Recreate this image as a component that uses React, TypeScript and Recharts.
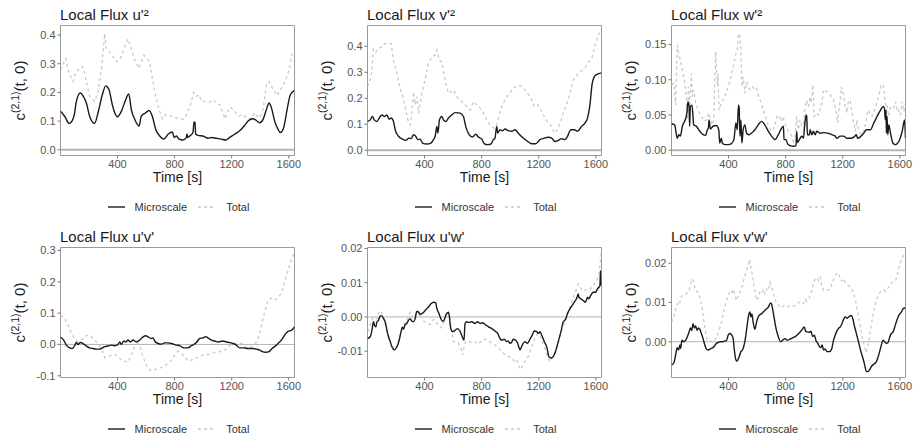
import React from 'react';
import { LineChart, Line, XAxis, YAxis, ReferenceLine, ReferenceArea, Label } from 'recharts';

type Pt = [number, number];

const TIME_DOMAIN: [number, number] = [1, 1640];
const TIME_TICKS = [400, 800, 1200, 1600];
const SERIES_NAMES = ['Microscale', 'Total'];
const X_TITLE = 'Time [s]';

// ---------- Local Flux u'^2 ----------
const uuMicro: Pt[] = [[1,0.134],[30,0.117],[61,0.092],[77,0.097],[100,0.129],[112,0.169],[140,0.198],[159,0.188],[182,0.163],[205,0.117],[240,0.092],[264,0.129],[294,0.192],[318,0.223],[341,0.209],[364,0.157],[381,0.129],[399,0.115],[427,0.134],[458,0.175],[479,0.195],[497,0.14],[521,0.106],[551,0.083],[567,0.117],[598,0.129],[621,0.137],[644,0.117],[668,0.071],[696,0.048],[724,0.037],[754,0.054],[785,0.062],[796,0.043],[813,0.048],[831,0.037],[859,0.034],[883,0.043],[887,0.055],[892,0.043],[906,0.048],[929,0.06],[936,0.097],[943,0.095],[948,0.054],[964,0.05],[999,0.048],[1034,0.04],[1058,0.043],[1093,0.04],[1128,0.037],[1158,0.034],[1186,0.043],[1221,0.054],[1256,0.066],[1291,0.085],[1315,0.1],[1350,0.108],[1373,0.102],[1396,0.094],[1420,0.106],[1443,0.14],[1462,0.163],[1478,0.147],[1501,0.1],[1525,0.071],[1541,0.06],[1564,0.077],[1588,0.14],[1611,0.192],[1640,0.207]];
const uuTotal: Pt[] = [[1,0.278],[37,0.318],[54,0.278],[77,0.25],[89,0.238],[107,0.267],[131,0.284],[154,0.29],[166,0.278],[182,0.238],[205,0.186],[240,0.169],[264,0.203],[287,0.278],[311,0.405],[322,0.353],[346,0.341],[369,0.324],[397,0.307],[427,0.324],[458,0.37],[474,0.387],[497,0.353],[521,0.313],[551,0.284],[567,0.307],[586,0.33],[607,0.318],[626,0.307],[644,0.25],[668,0.186],[691,0.14],[715,0.108],[738,0.123],[761,0.117],[789,0.117],[813,0.111],[841,0.108],[864,0.106],[883,0.123],[911,0.157],[934,0.2],[953,0.186],[971,0.192],[988,0.169],[1011,0.169],[1046,0.166],[1069,0.175],[1093,0.163],[1116,0.157],[1135,0.134],[1153,0.108],[1168,0.129],[1191,0.149],[1210,0.14],[1233,0.126],[1252,0.117],[1270,0.123],[1291,0.117],[1315,0.106],[1338,0.111],[1361,0.129],[1378,0.117],[1396,0.111],[1420,0.14],[1443,0.226],[1462,0.238],[1478,0.221],[1501,0.203],[1518,0.189],[1536,0.209],[1560,0.221],[1578,0.244],[1602,0.278],[1623,0.336],[1640,0.347]];

// ---------- Local Flux v'^2 ----------
const vvMicro: Pt[] = [[1,0.111],[20,0.117],[36,0.13],[48,0.117],[67,0.111],[83,0.124],[102,0.136],[120,0.13],[137,0.136],[153,0.12],[167,0.124],[183,0.111],[195,0.079],[218,0.054],[246,0.043],[269,0.038],[292,0.047],[307,0.045],[323,0.06],[339,0.054],[353,0.041],[370,0.043],[386,0.028],[416,0.024],[446,0.028],[463,0.041],[475,0.054],[487,0.092],[494,0.066],[505,0.117],[521,0.13],[533,0.117],[549,0.111],[568,0.124],[591,0.136],[615,0.145],[650,0.143],[673,0.13],[689,0.092],[713,0.06],[736,0.051],[759,0.062],[778,0.051],[801,0.043],[820,0.025],[843,0.022],[867,0.025],[883,0.041],[894,0.047],[906,0.092],[913,0.066],[929,0.079],[945,0.075],[964,0.082],[987,0.076],[1011,0.073],[1034,0.079],[1057,0.066],[1092,0.047],[1123,0.034],[1151,0.025],[1179,0.025],[1209,0.041],[1240,0.047],[1268,0.05],[1291,0.047],[1314,0.034],[1337,0.038],[1360,0.045],[1384,0.041],[1402,0.054],[1426,0.079],[1449,0.079],[1472,0.073],[1500,0.092],[1523,0.104],[1542,0.124],[1559,0.175],[1575,0.257],[1598,0.289],[1640,0.298]];
const vvTotal: Pt[] = [[1,0.245],[27,0.283],[43,0.391],[60,0.378],[78,0.391],[97,0.397],[120,0.41],[148,0.41],[167,0.41],[183,0.347],[207,0.296],[230,0.238],[260,0.181],[283,0.117],[300,0.098],[311,0.136],[323,0.225],[335,0.175],[346,0.206],[358,0.143],[381,0.219],[404,0.27],[426,0.334],[451,0.359],[475,0.366],[487,0.385],[503,0.347],[521,0.34],[545,0.27],[568,0.219],[587,0.225],[603,0.232],[626,0.206],[650,0.194],[673,0.181],[696,0.168],[720,0.155],[743,0.187],[766,0.175],[790,0.162],[813,0.143],[836,0.117],[867,0.092],[890,0.085],[906,0.098],[918,0.124],[941,0.168],[964,0.194],[987,0.213],[1022,0.238],[1057,0.251],[1081,0.245],[1116,0.225],[1151,0.194],[1169,0.168],[1193,0.175],[1216,0.155],[1239,0.13],[1267,0.104],[1291,0.092],[1309,0.066],[1333,0.079],[1349,0.104],[1372,0.143],[1395,0.175],[1419,0.219],[1442,0.27],[1477,0.296],[1505,0.308],[1528,0.321],[1551,0.34],[1575,0.359],[1598,0.41],[1621,0.448],[1640,0.455]];

// ---------- Local Flux w'^2 ----------
const wwMicro: Pt[] = [[1,0.0376],[23,0.036],[34,0.024],[41,0.017],[53,0.022],[63,0.02],[77,0.034],[93,0.041],[109,0.053],[116,0.069],[124,0.062],[128,0.034],[133,0.062],[145,0.064],[152,0.046],[156,0.036],[175,0.034],[199,0.027],[222,0.022],[241,0.021],[252,0.029],[259,0.0315],[264,0.043],[273,0.03],[292,0.034],[315,0.035],[332,0.029],[339,0.01],[350,0.017],[358,0.0094],[374,0.008],[398,0.008],[421,0.0094],[438,0.015],[452,0.0386],[461,0.029],[470,0.064],[475,0.06],[480,0.02],[487,0.043],[494,0.01],[503,0.029],[515,0.036],[527,0.024],[543,0.022],[560,0.024],[585,0.029],[608,0.036],[632,0.041],[655,0.036],[679,0.027],[702,0.02],[726,0.015],[749,0.022],[773,0.0315],[785,0.034],[789,0.015],[803,0.015],[813,0.0094],[831,0.0066],[855,0.0056],[873,0.0066],[878,0.027],[883,0.011],[897,0.015],[913,0.02],[925,0.017],[934,0.036],[944,0.05],[948,0.048],[953,0.022],[967,0.022],[972,0.029],[984,0.022],[995,0.027],[1007,0.022],[1019,0.027],[1042,0.024],[1066,0.025],[1101,0.024],[1124,0.022],[1148,0.02],[1159,0.017],[1183,0.02],[1206,0.02],[1230,0.017],[1253,0.017],[1281,0.019],[1295,0.022],[1305,0.017],[1323,0.019],[1347,0.024],[1366,0.029],[1394,0.029],[1418,0.0386],[1441,0.048],[1465,0.057],[1483,0.062],[1492,0.06],[1499,0.043],[1504,0.057],[1506,0.024],[1511,0.048],[1516,0.022],[1523,0.036],[1535,0.024],[1553,0.01],[1570,0.008],[1594,0.0127],[1617,0.027],[1633,0.043],[1640,0.017]];
const wwTotal: Pt[] = [[1,0.093],[18,0.095],[30,0.064],[41,0.149],[53,0.137],[65,0.126],[81,0.109],[93,0.097],[105,0.071],[112,0.043],[119,0.09],[128,0.057],[140,0.109],[147,0.076],[156,0.086],[170,0.067],[187,0.057],[210,0.048],[227,0.041],[245,0.043],[264,0.053],[273,0.043],[287,0.036],[296,0.043],[304,0.097],[311,0.14],[316,0.114],[323,0.093],[327,0.109],[334,0.057],[351,0.067],[374,0.076],[398,0.09],[421,0.107],[438,0.123],[452,0.137],[461,0.14],[470,0.165],[480,0.165],[487,0.142],[494,0.09],[503,0.104],[515,0.081],[527,0.097],[538,0.09],[550,0.086],[569,0.09],[585,0.086],[597,0.088],[608,0.079],[625,0.069],[644,0.057],[663,0.046],[679,0.034],[695,0.029],[709,0.027],[733,0.041],[742,0.05],[756,0.048],[768,0.041],[780,0.048],[789,0.043],[803,0.034],[813,0.029],[827,0.024],[843,0.02],[855,0.0127],[866,0.02],[878,0.048],[890,0.029],[901,0.043],[913,0.034],[925,0.0386],[937,0.06],[948,0.071],[960,0.062],[972,0.076],[979,0.067],[991,0.093],[1000,0.048],[1014,0.053],[1030,0.05],[1042,0.057],[1054,0.067],[1066,0.086],[1089,0.083],[1113,0.079],[1136,0.071],[1152,0.057],[1164,0.0386],[1173,0.057],[1183,0.071],[1190,0.09],[1202,0.083],[1218,0.062],[1230,0.053],[1241,0.071],[1253,0.069],[1265,0.053],[1277,0.0386],[1288,0.027],[1300,0.043],[1312,0.029],[1329,0.022],[1347,0.027],[1366,0.043],[1375,0.057],[1389,0.053],[1405,0.048],[1429,0.06],[1452,0.076],[1469,0.093],[1483,0.093],[1492,0.081],[1501,0.062],[1511,0.064],[1523,0.048],[1534,0.06],[1546,0.062],[1558,0.06],[1570,0.069],[1581,0.055],[1593,0.057],[1605,0.05],[1616,0.069],[1628,0.055],[1640,0.064]];

// ---------- Local Flux u'v' ----------
const uvMicro: Pt[] = [[1,0.024],[23,0.014],[42,-0.002],[65,-0.011],[84,-0.013],[100,-0.004],[112,0.006],[124,0.0],[140,0.006],[159,0.003],[182,-0.005],[205,-0.011],[229,-0.013],[252,-0.015],[271,-0.015],[287,-0.013],[311,-0.007],[334,-0.005],[357,-0.002],[381,-0.004],[404,0.0],[416,0.008],[427,0.0],[444,0.011],[458,0.008],[474,0.014],[490,0.008],[509,0.014],[532,0.008],[556,0.014],[579,0.024],[598,0.028],[614,0.024],[637,0.019],[649,0.021],[661,0.011],[684,0.003],[708,0.001],[731,0.005],[754,0.005],[778,0.003],[813,-0.002],[836,-0.004],[864,-0.011],[894,-0.011],[918,-0.004],[953,0.006],[976,0.019],[999,0.021],[1018,0.025],[1034,0.021],[1058,0.014],[1081,0.011],[1104,0.008],[1139,0.011],[1163,0.008],[1186,0.006],[1210,0.003],[1233,-0.002],[1256,-0.011],[1284,-0.011],[1315,-0.013],[1350,-0.013],[1373,-0.015],[1396,-0.018],[1415,-0.023],[1438,-0.025],[1462,-0.023],[1478,-0.015],[1501,-0.007],[1525,0.003],[1548,0.014],[1571,0.03],[1595,0.042],[1618,0.045],[1640,0.056]];
const uvTotal: Pt[] = [[1,0.093],[30,0.083],[54,0.061],[77,0.035],[100,0.019],[124,0.008],[147,0.014],[170,0.024],[194,0.03],[210,0.028],[229,0.019],[252,0.008],[276,-0.007],[294,-0.018],[311,-0.042],[334,-0.039],[357,-0.034],[381,-0.032],[404,-0.039],[427,-0.05],[451,-0.053],[474,-0.057],[486,-0.044],[497,-0.034],[521,-0.007],[544,0.003],[556,-0.002],[567,-0.023],[591,-0.055],[614,-0.076],[637,-0.085],[661,-0.081],[684,-0.076],[708,-0.074],[731,-0.068],[754,-0.06],[778,-0.05],[801,-0.034],[824,-0.021],[848,-0.029],[871,-0.039],[894,-0.053],[918,-0.05],[941,-0.044],[964,-0.042],[988,-0.036],[1011,-0.032],[1034,-0.032],[1058,-0.029],[1081,-0.025],[1104,-0.025],[1128,-0.021],[1151,-0.018],[1175,-0.007],[1198,0.0],[1221,0.003],[1245,0.005],[1268,0.003],[1291,-0.007],[1315,-0.011],[1338,-0.007],[1361,-0.002],[1385,0.019],[1408,0.061],[1431,0.104],[1455,0.141],[1478,0.148],[1501,0.141],[1525,0.151],[1548,0.162],[1571,0.199],[1595,0.236],[1618,0.273],[1640,0.294]];

// ---------- Local Flux u'w' ----------
const uwMicro: Pt[] = [[1,-0.0063],[20,-0.0058],[32,-0.0039],[43,-0.0014],[50,-0.0024],[60,-0.0029],[67,-0.0014],[78,-0.001],[90,0.0003],[102,0.0003],[113,-0.0005],[125,-0.0014],[137,-0.0039],[148,-0.0058],[160,-0.0072],[172,-0.0087],[188,-0.0096],[207,-0.0087],[223,-0.0068],[236,-0.0043],[246,-0.0029],[253,-0.0036],[265,-0.0022],[276,-0.0019],[288,-0.001],[300,-0.0005],[311,-0.0012],[323,-0.0014],[335,-0.0005],[346,0.0016],[358,0.0014],[370,0.0007],[381,0.001],[393,0.0013],[405,0.0019],[416,0.0024],[428,0.0029],[447,0.0039],[463,0.0043],[479,0.0041],[487,0.0024],[498,0.0014],[510,0.0],[521,-0.001],[533,-0.0013],[545,0.0],[556,0.001],[568,0.0013],[575,0.0],[582,-0.0029],[596,-0.0043],[614,-0.0039],[633,-0.0034],[650,-0.0043],[670,-0.0063],[677,-0.0068],[684,-0.0019],[696,-0.0014],[712,-0.0016],[731,-0.0014],[754,-0.0019],[773,-0.0014],[789,-0.0019],[806,-0.0017],[825,-0.0022],[848,-0.0029],[871,-0.0034],[894,-0.0041],[913,-0.0048],[929,-0.0063],[941,-0.0068],[959,-0.0065],[976,-0.0072],[987,-0.007],[999,-0.0077],[1011,-0.0074],[1022,-0.0065],[1039,-0.0068],[1053,-0.0077],[1069,-0.0096],[1085,-0.0082],[1104,-0.0072],[1122,-0.0077],[1139,-0.0065],[1155,-0.0053],[1169,-0.0041],[1186,-0.0043],[1198,-0.0048],[1209,-0.0043],[1221,-0.0053],[1239,-0.0072],[1256,-0.0087],[1272,-0.0116],[1286,-0.012],[1302,-0.0116],[1318,-0.0101],[1337,-0.0072],[1356,-0.0043],[1372,-0.0014],[1388,-0.0007],[1402,0.001],[1419,0.0024],[1435,0.0034],[1449,0.0043],[1465,0.0053],[1477,0.0067],[1482,0.0058],[1495,0.0053],[1512,0.0048],[1528,0.0043],[1542,0.0058],[1551,0.0053],[1565,0.0063],[1582,0.0072],[1598,0.0072],[1612,0.0082],[1629,0.0092],[1633,0.0135],[1638,0.0092]];
const uwTotal: Pt[] = [[1,-0.0043],[20,-0.0024],[36,-0.0005],[50,0.0],[67,-0.0005],[78,0.001],[90,0.0019],[102,0.001],[113,-0.0003],[137,-0.0039],[160,-0.0072],[188,-0.0094],[207,-0.0087],[223,-0.0063],[246,-0.0029],[265,-0.0019],[288,0.0],[300,0.0014],[311,0.0005],[323,-0.0003],[339,0.001],[353,0.0019],[370,0.001],[386,-0.001],[405,-0.0014],[423,-0.0019],[440,-0.0022],[456,-0.001],[470,-0.0007],[487,-0.0019],[503,-0.0024],[521,-0.0032],[540,-0.001],[556,0.0005],[568,0.0014],[580,-0.0014],[591,-0.0043],[603,-0.0072],[619,-0.0072],[638,-0.0077],[656,-0.0092],[668,-0.0111],[680,-0.0082],[689,-0.0072],[708,-0.0072],[731,-0.0074],[754,-0.0072],[778,-0.008],[801,-0.0068],[825,-0.0065],[848,-0.007],[871,-0.0077],[894,-0.0082],[918,-0.009],[941,-0.0101],[964,-0.0111],[987,-0.0116],[1011,-0.012],[1030,-0.013],[1046,-0.0125],[1062,-0.0145],[1074,-0.0154],[1085,-0.0145],[1104,-0.013],[1122,-0.012],[1139,-0.0101],[1155,-0.0082],[1174,-0.0063],[1193,-0.0048],[1209,-0.0055],[1225,-0.0072],[1244,-0.0092],[1262,-0.0116],[1279,-0.013],[1309,-0.0111],[1325,-0.0092],[1342,-0.0068],[1360,-0.0039],[1379,-0.0019],[1395,0.0],[1412,0.0019],[1431,0.0043],[1449,0.0063],[1465,0.0082],[1477,0.0096],[1489,0.0087],[1505,0.0077],[1524,0.0077],[1547,0.0084],[1565,0.0082],[1582,0.0092],[1598,0.0101],[1612,0.0111],[1624,0.013],[1638,0.0188]];

// ---------- Local Flux v'w' ----------
const vwMicro: Pt[] = [[1,-0.0059],[16,-0.0055],[30,-0.0034],[41,-0.0015],[51,-0.0021],[60,-0.0008],[65,-0.0017],[74,0.0004],[86,0.0],[100,0.0004],[112,0.0013],[124,0.0025],[133,0.0035],[142,0.0029],[152,0.0046],[161,0.0035],[170,0.004],[180,0.0029],[189,0.0035],[199,0.0032],[210,0.0021],[222,0.0008],[234,-0.0008],[245,-0.0018],[257,-0.0021],[269,-0.0019],[280,-0.0017],[292,-0.0015],[304,-0.001],[316,-0.0004],[327,-0.0002],[339,0.0],[358,0.0],[374,0.0002],[386,0.0003],[398,0.0017],[409,0.0021],[421,0.0018],[433,0.0008],[440,-0.0017],[452,-0.0046],[461,-0.0049],[475,-0.0038],[487,-0.0025],[498,-0.0021],[510,-0.0008],[522,0.0017],[531,0.0042],[541,0.0067],[550,0.0076],[557,0.0063],[564,0.0071],[573,0.005],[585,0.0032],[597,0.005],[608,0.0063],[620,0.0069],[632,0.0071],[644,0.0076],[656,0.008],[667,0.0084],[679,0.0088],[691,0.0097],[698,0.0099],[707,0.0088],[719,0.0063],[733,0.0034],[749,0.0013],[766,0.0],[780,0.0004],[796,0.0008],[813,0.0004],[831,0.0007],[850,0.001],[866,0.0013],[883,0.0018],[902,0.0025],[918,0.0032],[930,0.0038],[941,0.0027],[953,0.0025],[967,0.0024],[977,0.0027],[990,0.0013],[1002,0.0017],[1012,0.0004],[1026,-0.0004],[1038,-0.0013],[1047,-0.0015],[1056,-0.0008],[1066,-0.0021],[1077,-0.0018],[1089,-0.0025],[1108,-0.0025],[1124,-0.0017],[1136,0.0004],[1148,0.0017],[1159,0.0027],[1171,0.0034],[1183,0.0038],[1195,0.0046],[1206,0.0057],[1218,0.0063],[1230,0.006],[1241,0.0063],[1253,0.0066],[1262,0.0067],[1272,0.0057],[1281,0.0042],[1293,0.0025],[1305,0.0008],[1316,-0.0008],[1328,-0.0025],[1342,-0.0042],[1354,-0.0059],[1366,-0.0076],[1377,-0.0076],[1389,-0.0071],[1401,-0.0063],[1417,-0.0057],[1434,-0.0052],[1445,-0.0042],[1459,-0.0025],[1471,-0.0008],[1483,0.0004],[1494,0.0],[1506,-0.0004],[1518,-0.0002],[1530,0.0013],[1541,0.0021],[1553,0.0025],[1565,0.0038],[1577,0.0052],[1588,0.0063],[1600,0.0071],[1612,0.0076],[1623,0.0084],[1633,0.0086],[1640,0.0084]];
const vwTotal: Pt[] = [[1,0.005],[16,0.0063],[30,0.0084],[41,0.0097],[51,0.0092],[60,0.0101],[70,0.0116],[86,0.0118],[105,0.0122],[116,0.0126],[128,0.0134],[140,0.0153],[147,0.016],[156,0.0153],[166,0.0134],[180,0.0128],[194,0.0122],[203,0.0109],[217,0.0084],[229,0.005],[241,0.0021],[252,0.0004],[264,0.0],[280,0.0002],[292,0.0],[304,0.0004],[316,0.0013],[327,0.0021],[339,0.0035],[351,0.005],[363,0.0071],[374,0.0088],[386,0.0105],[398,0.0118],[409,0.0126],[421,0.0122],[433,0.0134],[445,0.0118],[456,0.0105],[468,0.0118],[480,0.0126],[491,0.0134],[503,0.0151],[515,0.0168],[527,0.0181],[538,0.0193],[548,0.021],[557,0.0189],[569,0.0168],[578,0.0143],[588,0.0122],[597,0.0105],[609,0.0113],[620,0.0126],[632,0.0122],[644,0.0134],[656,0.0122],[667,0.0134],[679,0.013],[691,0.0151],[702,0.0139],[714,0.0126],[726,0.0109],[738,0.0097],[756,0.0092],[773,0.0086],[789,0.0092],[808,0.0088],[831,0.0092],[855,0.0091],[878,0.0094],[897,0.0101],[913,0.0103],[925,0.0097],[937,0.0108],[948,0.0103],[960,0.0109],[972,0.0116],[984,0.013],[995,0.0147],[1007,0.016],[1019,0.0164],[1030,0.0155],[1042,0.0164],[1054,0.0143],[1066,0.013],[1089,0.013],[1113,0.0134],[1131,0.0155],[1148,0.0168],[1159,0.0176],[1171,0.0172],[1183,0.016],[1195,0.0155],[1206,0.0161],[1218,0.0151],[1230,0.0147],[1241,0.0143],[1253,0.014],[1265,0.0134],[1290,0.0105],[1310,0.0065],[1330,0.0025],[1350,-0.001],[1366,-0.0028],[1380,-0.0005],[1395,0.003],[1415,0.0075],[1440,0.011],[1465,0.0128],[1488,0.0132],[1499,0.0128],[1511,0.0134],[1523,0.0139],[1534,0.0143],[1546,0.0151],[1558,0.0153],[1570,0.0155],[1581,0.0168],[1593,0.0189],[1605,0.0202],[1616,0.0214],[1628,0.022],[1640,0.0223]];

// ---------- panel titles / y ticks ----------
const TITLES = ["Local Flux u'\u00b2", "Local Flux v'\u00b2", "Local Flux w'\u00b2", "Local Flux u'v'", "Local Flux u'w'", "Local Flux v'w'"];
const Y_TICKS_UU = [0, 0.1, 0.2, 0.3, 0.4];
const Y_TICKS_VV = [0, 0.1, 0.2, 0.3, 0.4];
const Y_TICKS_WW = [0, 0.05, 0.1, 0.15];
const Y_TICKS_UV = [-0.1, 0, 0.1, 0.2, 0.3];
const Y_TICKS_UW = [-0.01, 0, 0.01, 0.02];
const Y_TICKS_VW = [0, 0.01, 0.02];

const FONT = "'Liberation Sans', Arial, Helvetica, sans-serif";
const MICRO_COLOR = '#1a1a1a';
const TOTAL_COLOR = '#c8c8c8';

const COL_LEFT = [0, 305, 610];
const PLOT_LEFT = [60.5, 367.5, 671.5];
const PLOT_RIGHT = [294.5, 601.5, 905.5];
const ROW_TOP = [0, 218];
const PLOT_TOP = [25.5, 247.5];
const PLOT_BOTTOM = [155.5, 377.5];
const RIGHT_PAD = 11;

type PanelDef = {
  title: string; micro: Pt[]; total: Pt[]; yDomain: [number, number]; yTicks: number[];
  dec: number; col: number; row: number; zeroW: number;
};

const PANELS: PanelDef[] = [
  { title: TITLES[0], micro: uuMicro, total: uuTotal, yDomain: [-0.02, 0.4334], yTicks: Y_TICKS_UU, dec: 1, col: 0, row: 0, zeroW: 2 },
  { title: TITLES[1], micro: vvMicro, total: vvTotal, yDomain: [-0.02, 0.48], yTicks: Y_TICKS_VV, dec: 1, col: 1, row: 0, zeroW: 2 },
  { title: TITLES[2], micro: wwMicro, total: wwTotal, yDomain: [-0.0075, 0.177], yTicks: Y_TICKS_WW, dec: 2, col: 2, row: 0, zeroW: 2 },
  { title: TITLES[3], micro: uvMicro, total: uvTotal, yDomain: [-0.1055, 0.3095], yTicks: Y_TICKS_UV, dec: 1, col: 0, row: 1, zeroW: 1 },
  { title: TITLES[4], micro: uwMicro, total: uwTotal, yDomain: [-0.0177, 0.0203], yTicks: Y_TICKS_UW, dec: 2, col: 1, row: 1, zeroW: 1 },
  { title: TITLES[5], micro: vwMicro, total: vwTotal, yDomain: [-0.0091, 0.024], yTicks: Y_TICKS_VW, dec: 2, col: 2, row: 1, zeroW: 1 },
];

function Panel({ p }: { p: PanelDef }) {
  const c = p.col, r = p.row;
  const left = COL_LEFT[c], top = ROW_TOP[r];
  const yAxisW = PLOT_LEFT[c] - left;
  const width = PLOT_RIGHT[c] - left + RIGHT_PAD;
  const height = 218;
  const mTop = PLOT_TOP[r] - top;
  const xAxisH = 40;
  const mBottom = height - (PLOT_BOTTOM[r] - top) - xAxisH;
  const plotW = PLOT_RIGHT[c] - PLOT_LEFT[c];
  const plotH = PLOT_BOTTOM[r] - PLOT_TOP[r];
  const microData = p.micro.map(([t, v]) => ({ t, v }));
  const totalData = p.total.map(([t, v]) => ({ t, v }));
  const xLabX = yAxisW + plotW / 2;
  const xLabY = PLOT_BOTTOM[r] - top + 26.5;
  const yLabX = yAxisW - 36;
  const yLabY = mTop + plotH / 2;

  return (
    <>
      <div style={{ position: 'absolute', left: PLOT_LEFT[c] - 0.5, top: PLOT_TOP[r] - 19, fontFamily: FONT, fontSize: 15, lineHeight: '15px', color: '#1a1a1a', whiteSpace: 'nowrap' }}>
        {p.title}
      </div>
      <div style={{ position: 'absolute', left, top }}>
        <LineChart width={width} height={height} margin={{ top: mTop, right: RIGHT_PAD, bottom: mBottom, left: 0 }}>
          <XAxis
            type="number" dataKey="t" domain={TIME_DOMAIN} ticks={TIME_TICKS} allowDataOverflow
            height={xAxisH} tickSize={3} tickMargin={2} axisLine={false} interval={0}
            tickLine={{ stroke: '#7a7a7a' }}
            tick={{ fontSize: 11, fill: '#555555', fontFamily: FONT }}
          >
            <Label content={() => (
              <text x={xLabX} y={xLabY} textAnchor="middle" fontFamily={FONT} fontSize={14} fill="#1a1a1a">{X_TITLE}</text>
            )} />
          </XAxis>
          <YAxis
            type="number" domain={p.yDomain} ticks={p.yTicks} allowDataOverflow width={yAxisW}
            tickSize={3} tickMargin={2} axisLine={false} interval={0}
            tickLine={{ stroke: '#7a7a7a' }}
            tick={{ fontSize: 11, fill: '#555555', fontFamily: FONT }}
            tickFormatter={(v: number) => v.toFixed(p.dec)}
          >
            <Label content={() => (
              <text x={yLabX} y={yLabY} transform={`rotate(-90 ${yLabX} ${yLabY})`} textAnchor="middle" fontFamily={FONT} fontSize={15} fill="#1a1a1a">
                c<tspan dy={-6} fontSize={10.5}>(2,1)</tspan><tspan dy={6}>(t, 0)</tspan>
              </text>
            )} />
          </YAxis>
          <ReferenceLine y={0} stroke="#b3b3b3" strokeWidth={p.zeroW} ifOverflow="hidden" />
          <Line data={totalData} dataKey="v" name={SERIES_NAMES[1]} type="linear" stroke={TOTAL_COLOR} strokeWidth={1.3} strokeDasharray="3 3" dot={false} activeDot={false} isAnimationActive={false} />
          <Line data={microData} dataKey="v" name={SERIES_NAMES[0]} type="monotone" stroke={MICRO_COLOR} strokeWidth={1.4} dot={false} activeDot={false} isAnimationActive={false} />
          <ReferenceArea x1={TIME_DOMAIN[0]} x2={TIME_DOMAIN[1]} y1={p.yDomain[0]} y2={p.yDomain[1]} fill="none" fillOpacity={0} stroke="#9a9a9a" strokeWidth={1} ifOverflow="visible" />
        </LineChart>
      </div>
      <div style={{ position: 'absolute', left: PLOT_LEFT[c] + 1, top: PLOT_BOTTOM[r] + 44, width: plotW, height: 14, display: 'flex', justifyContent: 'center', alignItems: 'center', fontFamily: FONT, fontSize: 11, color: '#333333', whiteSpace: 'nowrap', lineHeight: '14px' }}>
        <svg width={17} height={4} style={{ display: 'block' }}>
          <line x1={0} x2={17} y1={2} y2={2} stroke={MICRO_COLOR} strokeWidth={1.4} />
        </svg>
        <span style={{ marginLeft: 10 }}>{SERIES_NAMES[0]}</span>
        <svg width={17} height={4} style={{ display: 'block', marginLeft: 11 }}>
          <line x1={0} x2={17} y1={2} y2={2} stroke={TOTAL_COLOR} strokeWidth={1.3} strokeDasharray="3 3" />
        </svg>
        <span style={{ marginLeft: 11 }}>{SERIES_NAMES[1]}</span>
      </div>
    </>
  );
}

export default function App() {
  return (
    <div style={{ position: 'absolute', left: 0, top: 0, width: 917, height: 436, overflow: 'hidden', background: '#ffffff' }}>
      {PANELS.map((p, i) => <Panel key={i} p={p} />)}
    </div>
  );
}
